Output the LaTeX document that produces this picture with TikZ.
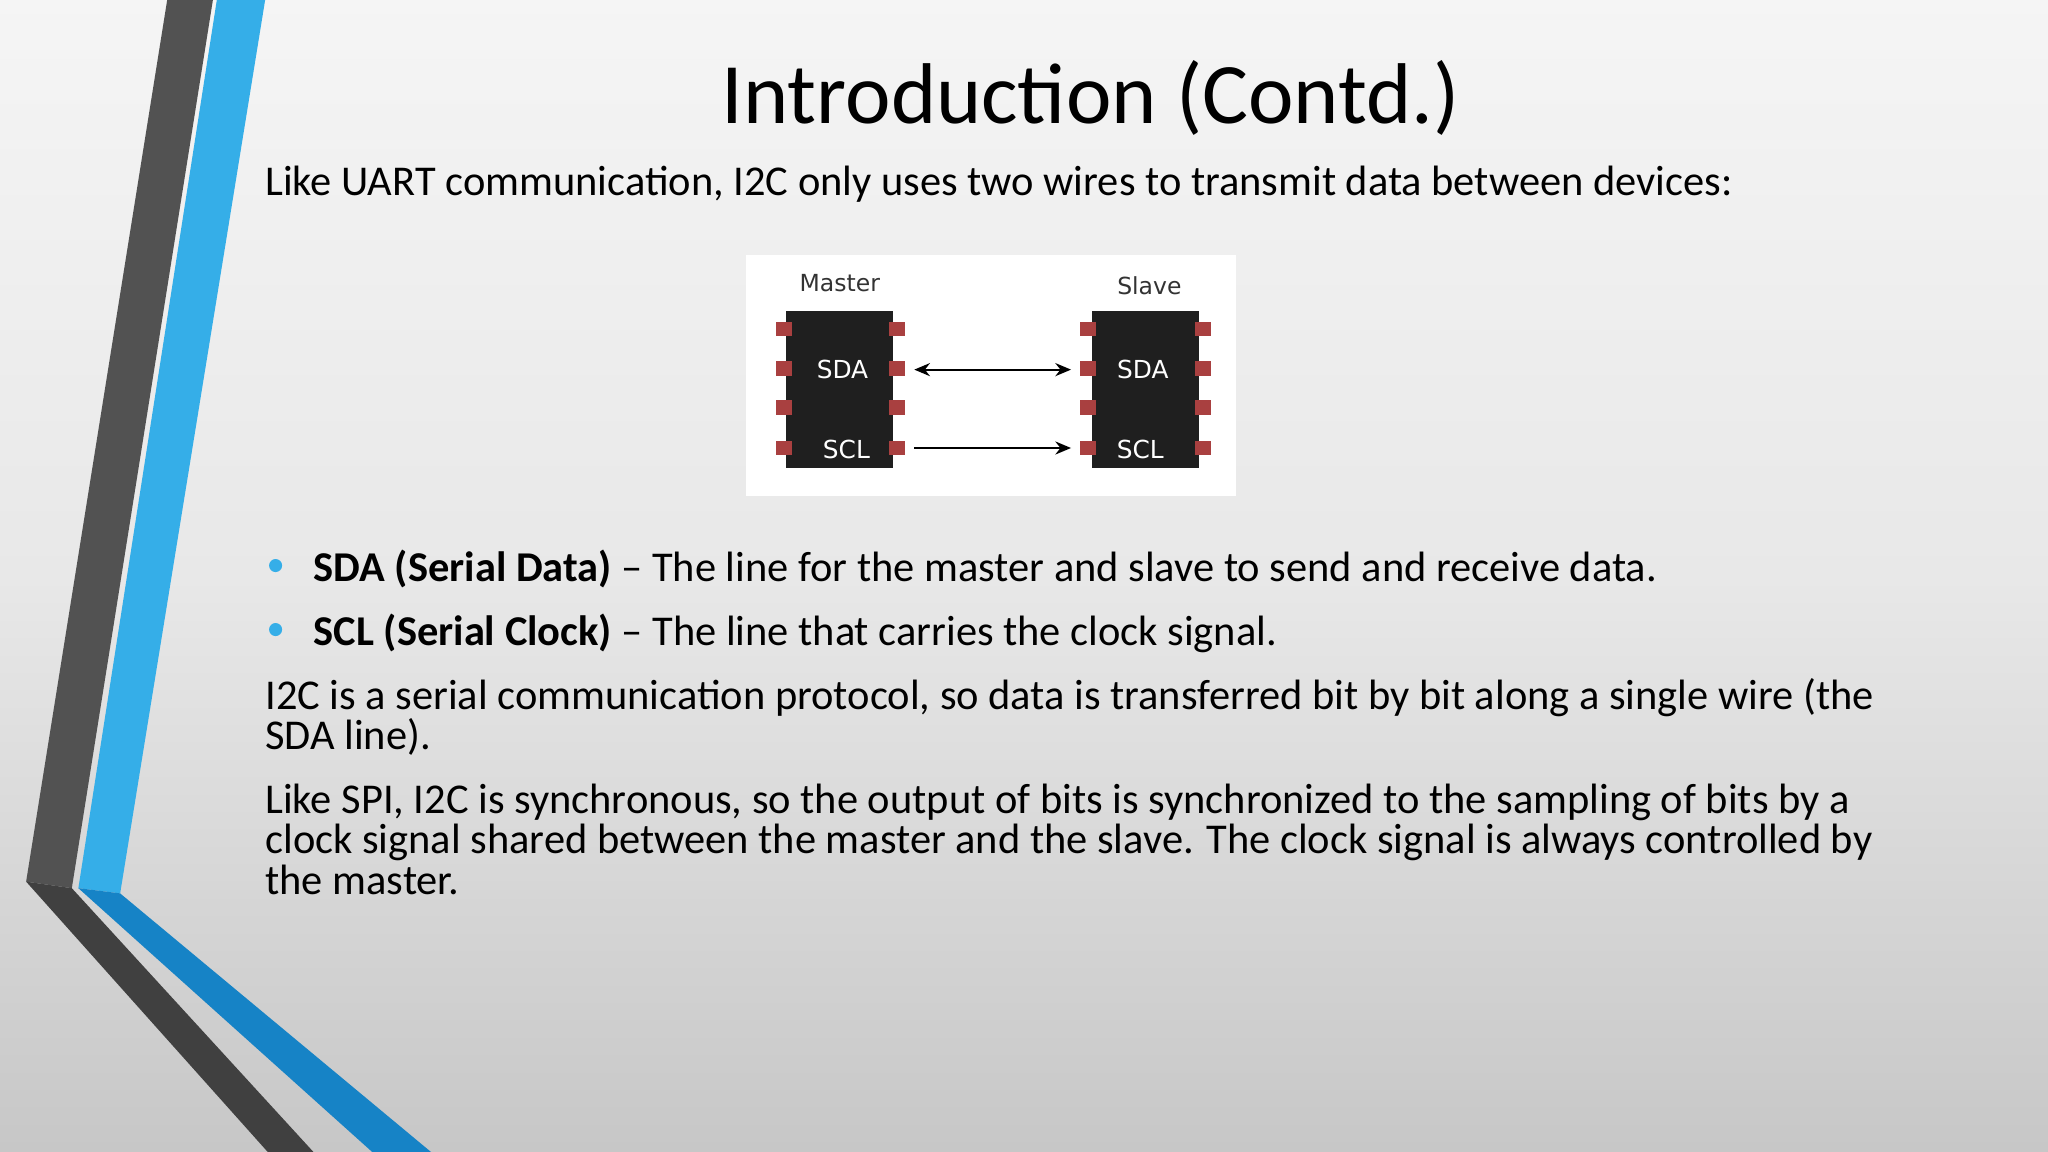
\documentclass[tikz,border=0pt]{standalone}
\usepackage{fontspec}
\setmainfont{Carlito}
\newfontfamily\chipfont{DejaVu Sans}
\usetikzlibrary{arrows.meta}
\definecolor{skyb}{HTML}{35AEE8}
\definecolor{deepb}{HTML}{1683C6}
\begin{document}
\begin{tikzpicture}[x=1pt,y=-1pt,
  body/.style={font=\fontsize{32.5}{31}\selectfont, anchor=north west, inner sep=0pt, align=left},
  chip/.style={fill=black!88},
  pin/.style={fill=red!55!black!75!white, minimum width=12pt, minimum height=11pt, inner sep=0pt},
  chiplbl/.style={text=white, font=\chipfont\fontsize{19}{19}\selectfont},
  toplbl/.style={font=\chipfont\fontsize{18}{18}\selectfont, text=black!80},
  conn/.style={line width=1.6pt, -{Stealth[length=12pt,width=10pt]}}]
\useasboundingbox (0,0) rectangle (1568,882);
\shade[top color=black!4, bottom color=black!22, middle color=black!9] (0,0) rectangle (1568,882);
% decorations
\fill[black!68] (128,0) -- (163,0) -- (55,680) -- (20,675) -- cycle;
\fill[skyb] (166,0) -- (203,0) -- (92,684) -- (60,680) -- cycle;
\fill[deepb] (60,680) -- (92,684) -- (330,882) -- (285,882) -- cycle;
\fill[black!75] (20,675) -- (55,680) -- (240,882) -- (205,882) -- cycle;
% title
\node[font=\fontsize{66}{68}\selectfont] (title) at (835,75) {Introduction (Contd.)};
\node[body] (intro) at (203,127) {Like UART communication, I2C only uses two wires to transmit data between devices:};
% chip figure
\fill[white] (571,195) rectangle (946,380);
\node[chip, minimum width=82pt, minimum height=120pt, inner sep=0pt] (m) at (643,298) {};
\node[chip, minimum width=82pt, minimum height=120pt, inner sep=0pt] (s) at (877,298) {};
\foreach \c/\x in {m/600,m/687,s/833,s/921}
  \foreach \y in {252,282,312,343}
    \node[pin] at (\x,\y) {};
\node[toplbl] (ml) at (643,217) {Master};
\node[toplbl] (sl) at (880,219) {Slave};
\node[chiplbl] (msda) at (645,283) {SDA};
\node[chiplbl] (mscl) at (648,344) {SCL};
\node[chiplbl] (ssda) at (875,283) {SDA};
\node[chiplbl] (sscl) at (873,344) {SCL};
\coordinate (a1) at (700,283); \coordinate (a2) at (820,283);
\coordinate (b1) at (700,343); \coordinate (b2) at (820,343);
\draw[conn, {Stealth[length=12pt,width=10pt]}-{Stealth[length=12pt,width=10pt]}] (a1) -- (a2);
\draw[conn] (b1) -- (b2);
% bullets
\fill[skyb] (211,433) circle (5);
\fill[skyb] (211,482) circle (5);
\node[body] (b1t) at (240,421) {\textbf{SDA (Serial Data)} -- The line for the master and slave to send and receive data.};
\node[body] (b2t) at (240,470) {\textbf{SCL (Serial Clock)} -- The line that carries the clock signal.};
\node[body] (p1) at (203,519) {I2C is a serial communication protocol, so data is transferred bit by bit along a single wire (the\\SDA line).};
\node[body] (p2) at (203,600) {Like SPI, I2C is synchronous, so the output of bits is synchronized to the sampling of bits by a\\clock signal shared between the master and the slave. The clock signal is always controlled by\\the master.};
\end{tikzpicture}
\end{document}
